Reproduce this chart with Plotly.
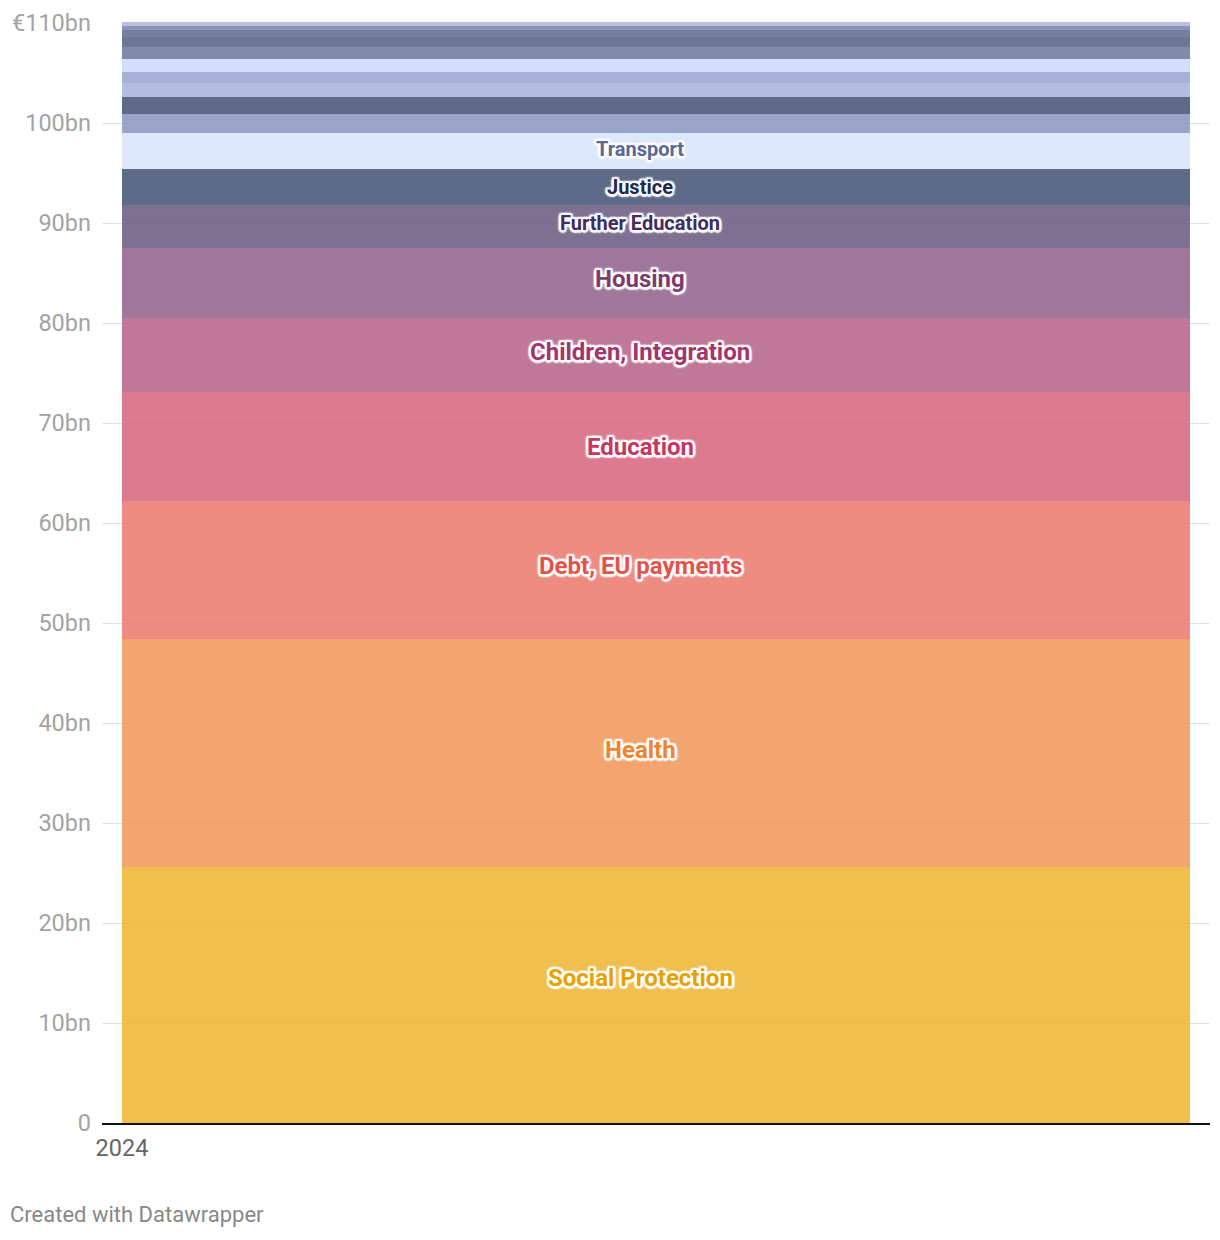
import plotly.graph_objects as go

# ---- data (€bn, 2024), bottom to top ----
categories = [
    "Social Protection", "Health", "Debt, EU payments", "Education",
    "Children, Integration", "Housing", "Further Education", "Justice",
    "Transport", "Enterprise", "Agriculture", "Environment, Climate",
    "Rural, Community", "Defence", "Tourism, Culture", "Foreign Affairs",
    "Public Expenditure", "Finance", "Taoiseach",
]
values = [25.6, 22.8, 13.8, 10.9, 7.4, 7.0, 4.3, 3.6, 3.6,
          1.9, 1.7, 1.4, 1.1, 1.3, 1.2, 1.0, 0.7, 0.4, 0.4]
show_label = [True] * 9 + [False] * 10
x_vals = [0, 1]
x_tick_labels = ["2024"]
y_ticks = list(range(0, 111, 10))
y_tick_labels = ["0"] + [f"{v}bn" for v in range(10, 101, 10)] + ["€110bn"]

# ---- styles ----
observed_fill = [
    "#f1bf4e", "#f4a46e", "#ef8c82", "#de7a8f", "#c07899", "#a0769c",
    "#7d6f91", "#5e6b88", "#dde8fc", "#9aa5c9", "#5e6a87", "#b3bde1",
    "#a6b0d5", "#d3ddfc", "#818cac", "#6c7695", "#747fa0", "#8a95b8",
    "#b8c1e2",
]
label_colors = ["#e9a100", "#f0852d", "#e5524a", "#c8375f", "#a3346d",
                "#7d3b72", "#3f2d61", "#1c2b4f", "#5c6794"]
label_sizes = [24, 24, 24, 24, 24, 24, 20, 20, 20]
label_shift = [17, 3, 4, 0, 3, 4, 4, 0, 2]
LABEL_XSHIFT = -16
ALPHA = 0.86


def to_rgba(hexc, a=ALPHA):
    h = hexc.lstrip("#")
    obs = [int(h[i:i + 2], 16) for i in (0, 2, 4)]
    base = [max(0, min(255, round((c - 255 * (1 - a)) / a))) for c in obs]
    return f"rgba({base[0]},{base[1]},{base[2]},{a})"


fig = go.Figure()
for name, v, col in zip(categories, values, observed_fill):
    fig.add_trace(go.Scatter(
        x=x_vals, y=[v] * len(x_vals), name=name, mode="lines",
        stackgroup="one", line=dict(width=0), fillcolor=to_rgba(col),
        hovertemplate=name + ": €%{y:.1f}bn<extra></extra>",
    ))

halo = ("white 2px 2px 1.5px, white -2px -2px 1.5px, white 2px -2px 1.5px, "
        "white -2px 2px 1.5px, white 0px 2.5px 1.5px, white 0px -2.5px 1.5px, "
        "white 2.5px 0px 1.5px, white -2.5px 0px 1.5px, white 0px 0px 3px")
cum = 0.0
li = 0
for name, v, show in zip(categories, values, show_label):
    mid = cum + v / 2
    cum += v
    if show:
        fig.add_annotation(
            x=0.5, y=mid, xref="x", yref="y", text=f"<b>{name}</b>",
            showarrow=False, yshift=label_shift[li], xshift=LABEL_XSHIFT,
            font=dict(family="Roboto", size=label_sizes[li],
                      color=label_colors[li], shadow=halo),
        )
        li += 1

# page body has an 8px margin, so the figure is sized/offset accordingly
W, H = 1212, 1232
ML, MR, MT, MB = 94, 10, 14, 117
pad = 20 / 1068
fig.add_annotation(
    x=(0 - ML) / (W - ML - MR), y=-(1206 - (H - MB)) / (H - MT - MB),
    xref="paper", yref="paper", xanchor="left", yanchor="middle",
    text="Created with Datawrapper", showarrow=False,
    font=dict(family="Roboto", size=22, color="#888888"),
)

fig.update_layout(
    width=W, height=H, margin=dict(l=ML, r=MR, t=MT, b=MB, autoexpand=False),
    paper_bgcolor="white", plot_bgcolor="white", showlegend=False,
    font=dict(family="Roboto"),
    xaxis=dict(range=[-pad, 1 + pad], tickvals=[0], ticktext=x_tick_labels,
               showgrid=False, zeroline=False, showline=True, automargin=False,
               linecolor="#111111", linewidth=2, ticks="",
               tickfont=dict(size=23.5, color="#666666"), ticklabelstandoff=3),
    yaxis=dict(range=[0, 110.1], tickvals=y_ticks, ticktext=y_tick_labels,
               showgrid=True, gridcolor="#e2e2e2", gridwidth=1, automargin=False,
               zeroline=False, showline=False, ticks="",
               tickfont=dict(size=23.5, color="#a3a3a3"), ticklabelstandoff=10),
)

fig.write_html("out.html")
